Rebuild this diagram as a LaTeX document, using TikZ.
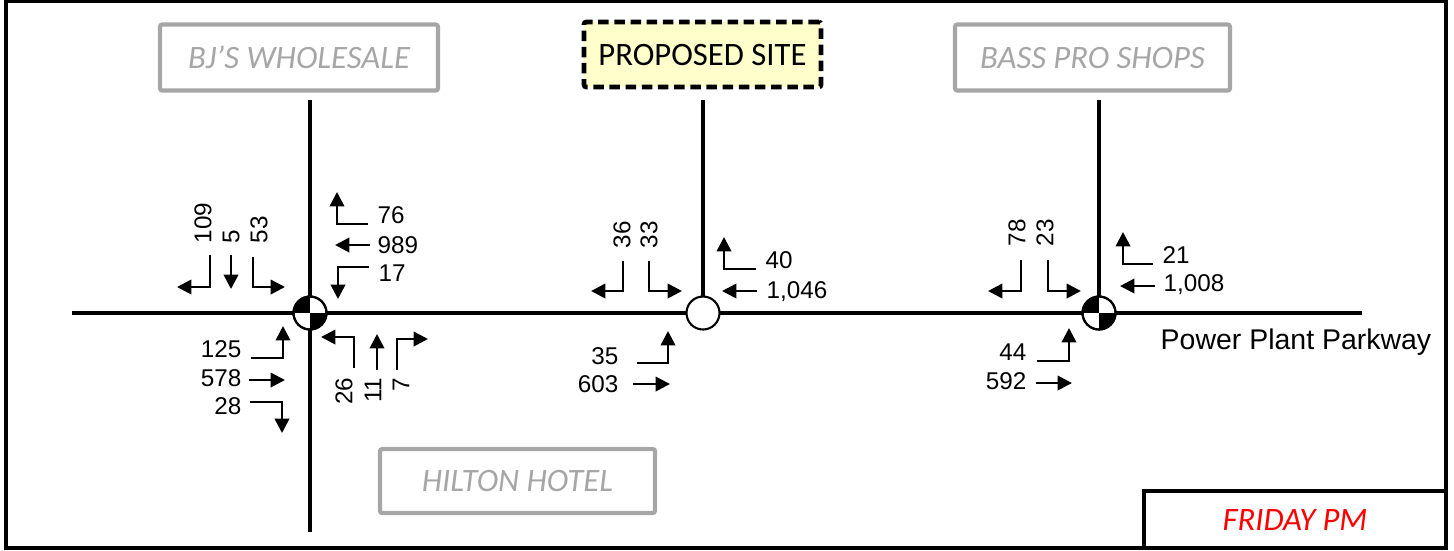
\documentclass[tikz,border=0pt]{standalone}
\usepackage{fontspec}
\setmainfont{Liberation Sans}
\newfontfamily\boxfont{Carlito}
\usetikzlibrary{arrows.meta}

\definecolor{sitegray}{RGB}{166,166,166}
\definecolor{siteyellow}{RGB}{255,255,204}

\begin{document}
\begin{tikzpicture}[x=0.1mm, y=-0.1mm,
	road/.style={line width=0.9pt},
	mvmt/.style={line width=0.75pt, -{Triangle[length=4.1pt, width=4.1pt]}},
	num/.style={font=\fontsize{6.9}{8}\selectfont, inner sep=0pt, text depth=0pt},
	landmark/.style={draw=sitegray, line width=1.15pt, rounded corners=0.6pt, text=sitegray,
		font=\boxfont\fontsize{9.3}{11}\selectfont\itshape, minimum height=0.66cm},
	signal/.style={circle, draw, line width=0.6pt, fill=white, minimum size=0.33cm, inner sep=0pt}]

\useasboundingbox (0,0) rectangle (1454,550);

% outer frame
\draw [line width=0.9pt] (6,1.5) rectangle (1446,548);

% landmarks
\node [landmark, minimum width=2.78cm] (bj) at (299,57.5) {BJ’S WHOLESALE};
\node [landmark, minimum width=2.75cm] (bass) at (1092.5,57.5) {BASS PRO SHOPS};
\node [landmark, minimum width=2.75cm, minimum height=0.64cm] (hilton) at (517.5,481) {HILTON HOTEL};
\node [draw, fill=siteyellow, line width=1.3pt, dash pattern=on 3pt off 1.6pt, rounded corners=0.6pt,
	minimum width=2.37cm, minimum height=0.65cm, font=\boxfont\fontsize{9.3}{11}\selectfont] (site) at (702.5,54.5) {PROPOSED SITE};

% roads
\draw [road] (72,313) -- (1362,313);
\draw [road] (310,100) -- (310,532);
\draw [road] (703,100) -- (703,313);
\draw [road] (1099,100) -- (1099,313);
\node [font=\fontsize{8.1}{10}\selectfont, anchor=base west, inner sep=0pt] (pkwy) at (1160,349) {Power Plant Parkway};

% intersections
\node [signal] (bjint) at (310,313) {};
\node [signal] (siteint) at (703,313) {};
\node [signal] (bassint) at (1099,313) {};
\foreach \s in {bjint,bassint} {
	\begin{scope}
		\clip (\s) circle [radius=0.165cm];
		\fill (\s) rectangle ++(-20,-20);
		\fill (\s) rectangle ++(20,20);
	\end{scope}
	\draw [line width=0.6pt] (\s) circle [radius=0.165cm];
}

% turning movements - BJ's Wholesale
\draw [mvmt] (210,255) |- (177,287);
\draw [mvmt] (231,255) -- (231,289);
\draw [mvmt] (253,257) |- (285,287);
\draw [mvmt] (368,224) -| (337,192);
\draw [mvmt] (370,245) -- (335,245);
\draw [mvmt] (369,267) -| (338,299);
\draw [mvmt] (251,358) -| (283,326);
\draw [mvmt] (249,380) -- (285,380);
\draw [mvmt] (250,402) -| (282,433);
\draw [mvmt] (354,368) |- (321,337);
\draw [mvmt] (377,370) -- (377,334);
\draw [mvmt] (397,370) |- (428,339);

% turning movements - proposed site
\draw [mvmt] (623,261) |- (591,291);
\draw [mvmt] (649,261) |- (682,291);
\draw [mvmt] (756,269) -| (724,237);
\draw [mvmt] (757,291) -- (722,291);
\draw [mvmt] (637,363) -| (668,331);
\draw [mvmt] (633,384) -- (670,384);

% turning movements - Bass Pro Shops
\draw [mvmt] (1021,260) |- (988,291);
\draw [mvmt] (1048,260) |- (1081,291);
\draw [mvmt] (1153,264) -| (1123,232);
\draw [mvmt] (1155,286) -- (1120,286);
\draw [mvmt] (1037,361) -| (1069,328);
\draw [mvmt] (1036,383) -- (1072,383);

% volumes
\foreach \v/\x/\y [count=\i] in {109/203/244, 5/231/244, 53/259/244, 36/622/249, 33/649/249, 78/1017/247, 23/1045/247}
	\node [num, rotate=90, anchor=west] (sb\i) at (\x,\y) {\v};
\foreach \v/\x/\y [count=\i] in {26/344/377, 11/373/377, 7/401/377}
	\node [num, rotate=90, anchor=east] (nb\i) at (\x,\y) {\v};
\foreach \v/\x/\y [count=\i] in {76/377/215, 989/377/245, 17/378/273, 40/765/260, {1,046}/766/290, 21/1162/255, {1,008}/1163/283}
	\node [num, anchor=west] (wb\i) at (\x,\y) {\v};
\foreach \v/\x/\y [count=\i] in {125/242/349, 578/242/378, 28/242/406, 35/619/356, 603/619/384, 44/1027/352, 592/1027/381}
	\node [num, anchor=east] (eb\i) at (\x,\y) {\v};

% period
\node [draw, fill=white, line width=0.9pt, minimum width=3.02cm, minimum height=0.57cm, text=red,
	font=\boxfont\fontsize{9.3}{11}\selectfont\itshape] (period) at (1295,519.5) {FRIDAY PM};

\end{tikzpicture}
\end{document}
